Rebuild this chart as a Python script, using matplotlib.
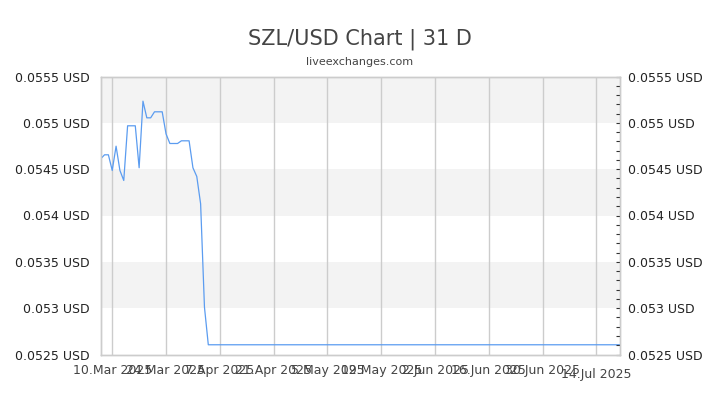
import matplotlib
matplotlib.use("Agg")
import matplotlib.pyplot as plt
import matplotlib.dates as mdates
from matplotlib.ticker import FixedLocator, MultipleLocator
import datetime as dt

# Data
dates = [dt.date(2025, 3, 7) + dt.timedelta(days=i) for i in range(29)] + [dt.date(2025, 7, 20)]
rates = [0.054612, 0.054655, 0.054655, 0.054486, 0.054748, 0.054486, 0.054378,
         0.054968, 0.054968, 0.054968, 0.054515, 0.055234, 0.055054, 0.055054,
         0.055119, 0.055119, 0.055119, 0.054881, 0.054777, 0.054777, 0.054777,
         0.054806, 0.054806, 0.054806, 0.054515, 0.054421, 0.054126, 0.053011,
         0.052605, 0.052605]
tick_dates = [dt.date(2025, 3, 10) + dt.timedelta(days=14 * i) for i in range(10)]
tick_labels = ["10.Mar 2025", "24.Mar 2025", "7.Apr 2025", "21.Apr 2025", "5.May 2025",
               "19.May 2025", "2.Jun 2025", "16.Jun 2025", "30.Jun 2025", "14.Jul 2025"]
y_ticks = [0.0525, 0.053, 0.0535, 0.054, 0.0545, 0.055, 0.0555]
y_labels = ["0.0525 USD", "0.053 USD", "0.0535 USD", "0.054 USD", "0.0545 USD", "0.055 USD", "0.0555 USD"]
band_starts = [0.053, 0.054, 0.055]

fig = plt.figure(figsize=(7.2, 4.05), dpi=100)
ax = fig.add_axes([100.7 / 720, 1 - 354.5 / 405, (619.5 - 100.7) / 720, (354.5 - 76.5) / 405])

xmin = mdates.date2num(dt.date(2025, 3, 7))
xmax = mdates.date2num(dt.date(2025, 7, 20))
ax.set_xlim(xmin, xmax)
ax.set_ylim(y_ticks[0], y_ticks[-1])

for lo in band_starts:
    ax.axhspan(lo, lo + 0.0005, color="#f3f3f3", lw=0, zorder=0)

ax.xaxis.set_major_locator(FixedLocator([mdates.date2num(d) for d in tick_dates]))
ax.set_xticklabels(tick_labels)
ax.grid(axis="x", color="#cccccc", lw=1, zorder=1)
ax.tick_params(axis="x", length=0, labelsize=9, colors="#444444", pad=7)
for lbl in ax.get_xticklabels()[-1:]:
    lbl.set_y(-0.012)

ax.plot([mdates.date2num(d) for d in dates], rates, color="#5b9cf0", lw=0.9, zorder=3)

ax.set_yticks(y_ticks)
ax.set_yticklabels(y_labels)
ax.tick_params(axis="y", length=0, labelsize=9, colors="#222222", pad=8)

ax2 = ax.twinx()
ax2.set_ylim(ax.get_ylim())
ax2.set_yticks(y_ticks)
ax2.set_yticklabels(y_labels)
ax2.yaxis.set_minor_locator(MultipleLocator(0.0001))
ax2.tick_params(axis="y", which="major", length=3, width=0.8, color="#333333", labelsize=9,
                labelcolor="#222222", pad=6, direction="in")
ax2.tick_params(axis="y", which="minor", length=3, width=0.8, color="#333333", direction="in")

for a in (ax, ax2):
    for s in a.spines.values():
        s.set_color("#cccccc")
        s.set_linewidth(1)

fig.text(0.5, 1 - 39 / 405, "SZL/USD Chart | 31 D", ha="center", va="center", fontsize=15, color="#444444")
fig.text(0.5, 1 - 62 / 405, "liveexchanges.com", ha="center", va="center", fontsize=8, color="#444444")

fig.savefig("out.png", dpi=100)
